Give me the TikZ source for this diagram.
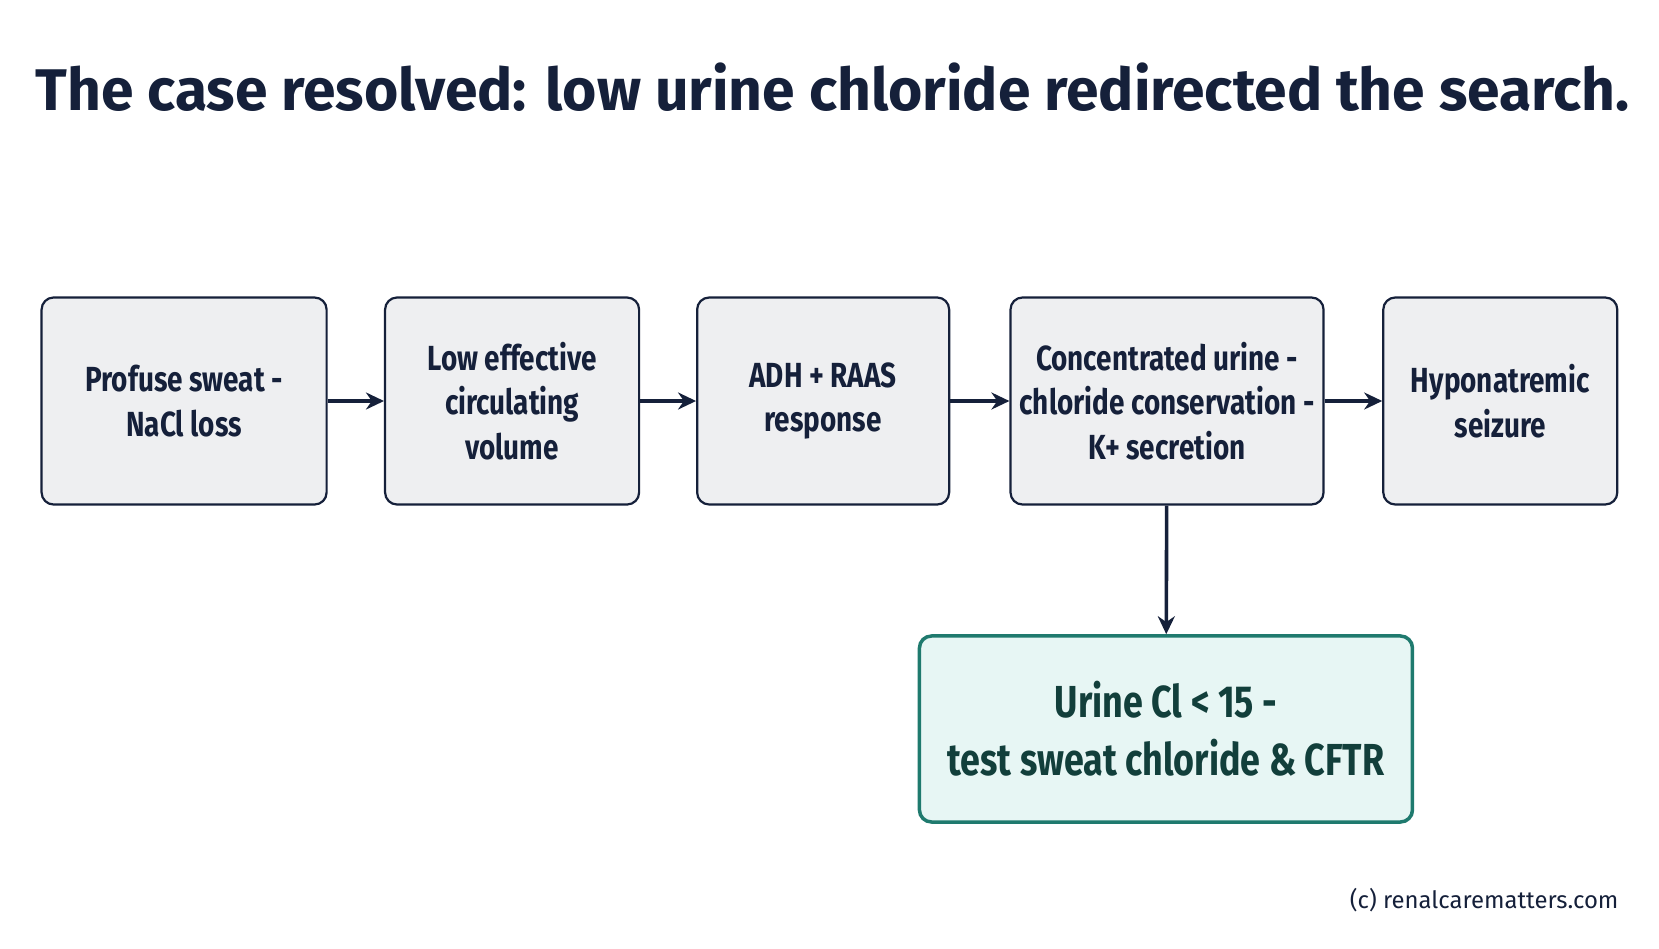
\documentclass[tikz,border=0pt]{standalone}
\usepackage{fontspec}
\setmainfont{Fira Sans}
\newfontfamily\boxfont[FakeStretch=0.8]{Fira Sans}
\usetikzlibrary{arrows.meta}
\definecolor{navy}{HTML}{15203A}
\definecolor{boxgray}{HTML}{EEEFF1}
\definecolor{tealline}{HTML}{1F7A6E}
\definecolor{tealfill}{HTML}{E7F6F4}
\definecolor{tealtext}{HTML}{123F3B}
\begin{document}
\begin{tikzpicture}[x=1.058bp,y=-1.058bp]
        \tikzstyle{stage}=[rectangle,rounded corners=12bp,draw=navy,line width=2.2bp,fill=boxgray,
          text=navy,align=center,font=\boxfont\bfseries\fontsize{35}{45}\selectfont,inner sep=0pt]
        \tikzstyle{result}=[stage,draw=tealline,line width=3.5bp,fill=tealfill,text=tealtext,
          font=\boxfont\bfseries\fontsize{45}{58}\selectfont]
        \tikzstyle{flow}=[draw=navy,line width=3.6bp,-{Stealth[length=18bp,width=17bp]}]
        \useasboundingbox (0,0) rectangle (1568,896);
        \node [font=\bfseries\fontsize{59}{66}\selectfont,text=navy] (title) at (787,82) {The case resolved: low urine chloride redirected the search.};

        \node [stage,minimum width=285bp,minimum height=207bp] (sweat) at (174,379) {Profuse sweat -\\NaCl loss};
        \node [stage,minimum width=254bp,minimum height=207bp] (volume) at (484,379) {Low effective\\circulating\\volume};
        \node [stage,minimum width=252bp,minimum height=207bp] (adh) at (778,379) {ADH + RAAS\\response};
        \node [stage,minimum width=313bp,minimum height=207bp] (urine) at (1103,379) {Concentrated urine -\\chloride conservation -\\K+ secretion};
        \node [stage,minimum width=234bp,minimum height=207bp] (seizure) at (1418,379) {Hyponatremic\\seizure};
        \node [result,minimum width=493bp,minimum height=186bp] (test) at (1102,689) {Urine Cl < 15 -\\test sweat chloride \& CFTR};

        \path[flow] (sweat) -- (volume);
        \path[flow] (volume) -- (adh);
        \path[flow] (adh) -- (urine);
        \path[flow] (urine) -- (seizure);
        \path[flow] (urine) -- (test);

        \node [anchor=east,font=\fontsize{24}{28}\selectfont,text=navy] (credit) at (1533,851) {(c) renalcarematters.com};
\end{tikzpicture}
\end{document}
